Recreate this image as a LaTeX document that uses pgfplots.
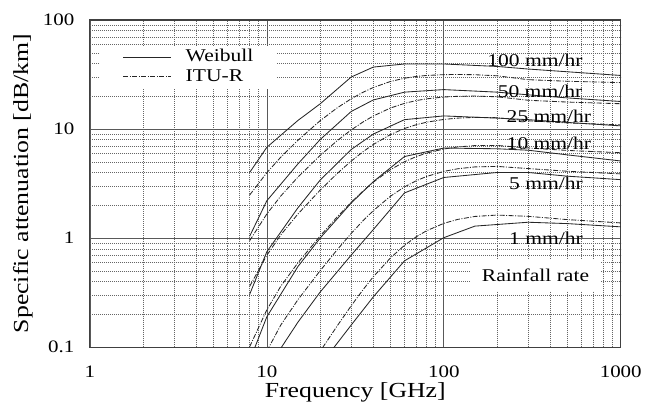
\documentclass[border=0pt]{standalone}
\usepackage{fontspec}
\setmainfont{Liberation Serif}[FakeStretch=1.2]
\usepackage{pgfplots}
\pgfplotsset{compat=1.18}
\newcommand{\tickfont}{\fontsize{17.5bp}{20bp}\selectfont}
\newcommand{\labfont}{\fontsize{21.5bp}{24bp}\selectfont}
\newcommand{\txtfont}{\fontsize{18bp}{21bp}\selectfont}
\tikzset{itu/.style={black!85, line width=0.85bp, dash pattern=on 5bp off 1.5bp on 1bp off 1.5bp},
         wei/.style={black!85, line width=0.85bp, solid}}
\begin{document}
\begin{tikzpicture}
\begin{axis}[
  xmode=log, ymode=log,
  scale only axis, width=532bp, height=328bp,
  xmin=1, xmax=1000, ymin=0.1, ymax=100,
  xtick={1,10,100,1000}, xticklabels={1,10,100,1000},
  ytick={0.1,1,10,100}, yticklabels={0.1,1,10,100},
  minor xtick={2,3,4,5,6,7,8,9,20,30,40,50,60,70,80,90,200,300,400,500,600,700,800,900},
  minor ytick={0.2,0.3,0.4,0.5,0.6,0.7,0.8,0.9,2,3,4,5,6,7,8,9,20,30,40,50,60,70,80,90},
  grid=both,
  major grid style={black!65, line width=0.55bp},
  minor grid style={black!60, dash pattern=on 1bp off 1bp, line width=0.45bp},
  major tick length=0pt, minor tick length=0pt,
  axis line style={black!75, line width=1.1bp},
  /pgf/number format/assume math mode=true,
  xticklabel style={font=\tickfont, anchor=base, yshift=-30bp},
  yticklabel style={font=\tickfont, anchor=east, xshift=-12bp},
  xlabel={Frequency [GHz]}, ylabel={Specific attenuation [dB/km]},
  xlabel style={font=\labfont, at={(axis description cs:0.5,-0.1372)}, anchor=center},
  ylabel style={font=\labfont, at={(axis description cs:-0.1259,0.5)}, anchor=center},
  legend style={at={(axis description cs:0.0188,0.921)}, anchor=north west,
    draw=none, fill=white, font=\txtfont, inner xsep=23bp, inner ysep=4bp,
    row sep=3.4bp, column sep=14bp,
    nodes={inner sep=0pt, text height=12bp, text depth=4bp}},
  legend cell align=left,
  legend image code/.code={\draw[#1] (0bp,1bp) -- (48bp,1bp);},
]
% Weibull 100
\addplot[wei] coordinates {(8,4.0)(10,6.8)(15,12)(20,17)(30,30)(40,37)(60,39.5)(100,39.5)(200,37.5)(300,35.5)(500,33.5)(1000,31)};
\addlegendentry{Weibull}
% ITU 100
\addplot[itu] coordinates {(8,2.485)(10,3.977)(12,5.53)(15,7.90)(20,11.91)(25,15.65)(30,18.96)(35,21.75)(40,24.05)(50,27.31)(60,29.24)(70,30.38)(80,31.00)(100,31.54)(120,31.64)(150,31.49)(200,30.78)(300,28.36)(500,27.43)(1000,26.66)};
\addlegendentry{ITU-R}
% Weibull 50
\addplot[wei, forget plot] coordinates {(8,1.04)(10,2.2)(15,4.8)(20,8.0)(30,14.5)(40,18.5)(60,21.8)(100,23)(200,21.8)(300,20.6)(500,19.3)(1000,17.9)};
\addplot[itu, forget plot] coordinates {(8,0.948)(10,1.664)(12,2.436)(15,3.629)(20,5.724)(25,7.827)(30,9.821)(35,11.62)(40,13.18)(50,15.60)(60,17.20)(70,18.26)(80,18.93)(100,19.66)(120,19.97)(150,20.08)(200,19.77)(300,18.37)(500,17.68)(1000,17.07)};
% 25
\addplot[wei, forget plot] coordinates {(8,0.305)(10,0.75)(15,1.9)(20,3.4)(30,6.5)(40,9.0)(60,12.2)(100,13.2)(200,12.6)(300,12.2)(500,11.5)(1000,10.7)};
\addplot[itu, forget plot] coordinates {(8,0.3615)(10,0.696)(12,1.073)(15,1.667)(20,2.751)(25,3.916)(30,5.090)(35,6.207)(40,7.228)(50,8.905)(60,10.12)(70,10.97)(80,11.56)(100,12.26)(120,12.60)(150,12.80)(200,12.71)(300,11.90)(500,11.39)(1000,10.93)};
% 10
\addplot[wei, forget plot] coordinates {(8,0.075)(10,0.19)(15,0.55)(20,1.0)(30,2.1)(40,3.3)(60,5.6)(100,6.7)(200,6.6)(300,6.4)(500,5.8)(1000,5.1)};
\addplot[itu, forget plot] coordinates {(8,0.1011)(10,0.2200)(12,0.363)(15,0.595)(20,1.045)(25,1.568)(30,2.134)(35,2.709)(40,3.264)(50,4.246)(60,5.016)(70,5.598)(80,6.024)(100,6.566)(120,6.858)(150,7.058)(200,7.080)(300,6.707)(500,6.372)(1000,6.066)};
% 5
\addplot[wei, forget plot] coordinates {(8,0.015)(10,0.045)(12.1,0.1)(15,0.17)(20,0.32)(30,0.7)(40,1.2)(60,2.6)(100,3.6)(200,4.0)(300,4.0)(500,3.7)(1000,3.44)};
\addplot[itu, forget plot] coordinates {(8,0.0386)(10,0.0920)(12,0.160)(15,0.273)(20,0.502)(25,0.784)(30,1.106)(35,1.447)(40,1.789)(50,2.425)(60,2.951)(70,3.364)(80,3.678)(100,4.094)(120,4.328)(150,4.500)(200,4.549)(300,4.345)(500,4.106)(1000,3.885)};
% 1
\addplot[wei, forget plot] coordinates {(20,0.07)(24,0.1)(30,0.16)(40,0.29)(60,0.62)(100,1.01)(150,1.29)(300,1.40)(500,1.36)(1000,1.27)};
\addplot[itu, forget plot] coordinates {(15,0.0448)(20,0.0916)(25,0.1571)(30,0.2403)(35,0.3374)(40,0.4431)(50,0.660)(60,0.8606)(70,1.0315)(80,1.1704)(100,1.3671)(120,1.4866)(150,1.5823)(200,1.6286)(300,1.586)(500,1.48)(1000,1.38)};
% labels
\node[anchor=base, font=\txtfont, inner sep=0pt] at (axis cs:327.7,37.5) {100 mm/hr};
\node[anchor=base, font=\txtfont, inner sep=0pt] at (axis cs:349.8,19.3) {50 mm/hr};
\node[anchor=base, font=\txtfont, inner sep=0pt] at (axis cs:393,11.45) {25 mm/hr};
\node[anchor=base, font=\txtfont, inner sep=0pt] at (axis cs:393,6.48) {10 mm/hr};
\node[anchor=base, font=\txtfont, inner sep=0pt] at (axis cs:378,2.79) {5 mm/hr};
\node[anchor=base, font=\txtfont, inner sep=0pt] at (axis cs:378,0.876) {1 mm/hr};
\node[fill=white, minimum width=132bp, minimum height=32bp, inner sep=0pt, font=\txtfont] at (axis cs:330,0.456) {Rainfall rate};
\coordinate (bl) at (rel axis cs:0,0);
\coordinate (tr) at (rel axis cs:1,1);
\end{axis}
\path ([shift={(-90bp,-61bp)}]bl) rectangle ([shift={(23bp,20bp)}]tr);
\end{tikzpicture}
\end{document}
